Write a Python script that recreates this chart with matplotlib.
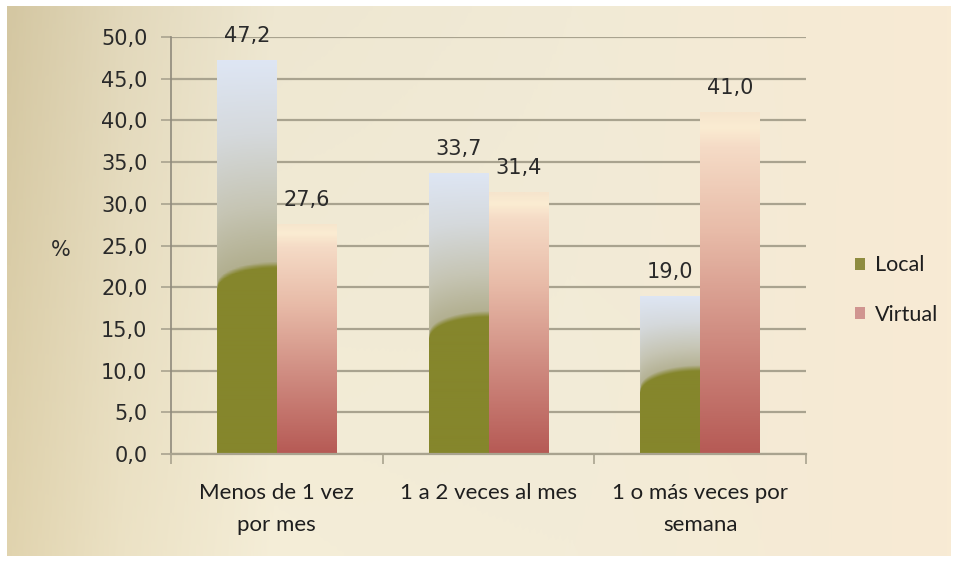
import numpy as np
import matplotlib
matplotlib.use("Agg")
import matplotlib.pyplot as plt
from matplotlib.colors import LinearSegmentedColormap, to_rgb
from matplotlib.patches import Patch

categories = ["Menos de 1 vez\npor mes", "1 a 2 veces al mes", "1 o más veces por\nsemana"]
local_vals = [47.2, 33.7, 19.0]
virtual_vals = [27.6, 31.4, 41.0]
series_names = ["Local", "Virtual"]
yticks = [0, 5, 10, 15, 20, 25, 30, 35, 40, 45, 50]
ylabel = "%"

W, H = 958, 562
fig = plt.figure(figsize=(W / 100, H / 100), dpi=100)
fig.patch.set_facecolor("white")

# ---- background panel with gradient ----
bg = fig.add_axes([7 / W, 6 / H, (951 - 7) / W, (556 - 6) / H])
bg.set_axis_off()
nx, ny = 400, 100
xs = np.linspace(0, 1, nx)
stops = [(0.0, "#d4c7a2"), (0.12, "#e2d8bb"), (0.28, "#eee7d1"), (0.6, "#f1ead6"), (1.0, "#f8ebd4")]
cm_bg = LinearSegmentedColormap.from_list("bg", stops)
row = cm_bg(xs)[:, :3]
img = np.repeat(row[None, :, :], ny, axis=0)
yy = np.linspace(0, 1, ny)[:, None, None]  # 0 top -> 1 bottom
lift = (1 - xs)[None, :, None] ** 2 * 0.05 * yy
img = np.clip(img + lift, 0, 1)
bg.imshow(img, aspect="auto", extent=(0, 1, 0, 1), origin="upper")
bg.set_xlim(0, 1)
bg.set_ylim(0, 1)

# ---- main axes ----
ax = fig.add_axes([171 / W, (H - 454) / H, (806 - 171) / W, (454 - 37) / H])
ax.set_facecolor("none")
x = np.arange(len(categories))
bw = 0.283
grid_c = "#a9a38f"

bars_l = ax.bar(x - bw / 2, local_vals, bw, color="none", edgecolor="none", zorder=2)
bars_v = ax.bar(x + bw / 2, virtual_vals, bw, color="none", edgecolor="none", zorder=2)

olive = np.array(to_rgb("#85862c"))
cm_local = LinearSegmentedColormap.from_list(
    "loc", [(0.0, "#b0ad8c"), (0.3, "#c6c5b4"), (0.65, "#d5d9dc"), (1.0, "#dee6f4")])
cm_virt = LinearSegmentedColormap.from_list(
    "vir", [(0.0, "#b65a55"), (0.35, "#d08d82"), (0.65, "#e8bba8"), (0.9, "#f5dbc6"), (0.96, "#fbecd2"), (1.0, "#f6e5cd")])

for b in bars_l:
    x0, hgt, w = b.get_x(), b.get_height(), b.get_width()
    nr, nc = 300, 60
    v = np.linspace(0, hgt, nr)[:, None]
    u = np.linspace(0, 1, nc)[None, :]
    boundary = hgt * 0.44 + 2.6 * (np.sqrt(np.clip(1 - (1 - u) ** 2, 0, 1)) - 0.4)
    t = np.clip((v - boundary) / (hgt - boundary), 0, 1)
    grad = cm_local(t)[:, :, :3]
    soft = np.clip((v - boundary) / 0.7, 0, 1)[:, :, None]
    im = grad * soft + olive[None, None, :] * (1 - soft)
    imo = ax.imshow(im, extent=(x0, x0 + w, 0, hgt), origin="lower", aspect="auto", zorder=2)
    imo.set_clip_path(b)

for b in bars_v:
    x0, hgt, w = b.get_x(), b.get_height(), b.get_width()
    nr = 300
    t = np.linspace(0, 1, nr)[:, None]
    im = np.repeat(cm_virt(t)[:, :, :3], 4, axis=1)
    imo = ax.imshow(im, extent=(x0, x0 + w, 0, hgt), origin="lower", aspect="auto", zorder=2)
    imo.set_clip_path(b)

ax.set_xlim(-0.5, len(categories) - 0.5)
ax.set_ylim(0, 50)
ax.set_yticks(yticks)
ax.set_yticklabels([f"{t:.1f}".replace(".", ",") for t in yticks])
ax.yaxis.grid(True, color=grid_c, linewidth=1.6, zorder=0)
ax.set_axisbelow(True)

ax.set_xticks(x)
ax.set_xticklabels(categories, fontfamily="Lato", fontsize=16, color="#1e1e1e", linespacing=1.75)
ax.set_xticks(np.arange(len(categories) + 1) - 0.5, minor=True)
ax.tick_params(axis="x", which="major", length=0, pad=21)
ax.tick_params(axis="x", which="minor", length=7, width=1.2, color=grid_c, direction="out")
ax.tick_params(axis="y", length=7, width=1.2, color=grid_c, direction="out", pad=10,
               labelsize=15, labelcolor="#2a2a2a")
for lab in ax.get_yticklabels():
    lab.set_fontfamily("DejaVu Sans")

for s in ["top", "right"]:
    ax.spines[s].set_visible(False)
ax.spines["left"].set_color("#8f8a7c")
ax.spines["left"].set_linewidth(1.2)
ax.spines["bottom"].set_color(grid_c)
ax.spines["bottom"].set_linewidth(1.6)

for bars, vals in ((bars_l, local_vals), (bars_v, virtual_vals)):
    for b, v in zip(bars, vals):
        ax.annotate(f"{v:.1f}".replace(".", ","), (b.get_x() + b.get_width() / 2, v),
                    xytext=(0, 10), textcoords="offset points", ha="center", va="bottom",
                    fontsize=15, fontfamily="DejaVu Sans", color="#2a2a2a", zorder=5,
                    annotation_clip=False)

fig.text(61 / W, 1 - 250 / H, ylabel, ha="center", va="center", fontsize=15,
         fontfamily="DejaVu Sans", color="#2a2a2a")

handles = [Patch(facecolor="#8e8c40", edgecolor="none"), Patch(facecolor="#d09590", edgecolor="none")]
leg = fig.legend(handles, series_names, loc="center left", bbox_to_anchor=(836 / W, 1 - 290 / H),
                 frameon=False, prop={"family": "Lato", "size": 15.5}, handlelength=0.45,
                 handleheight=0.45, handletextpad=0.45, labelspacing=1.35)
for t in leg.get_texts():
    t.set_color("#1e1e1e")

fig.savefig("out.png", dpi=100, facecolor="white")
